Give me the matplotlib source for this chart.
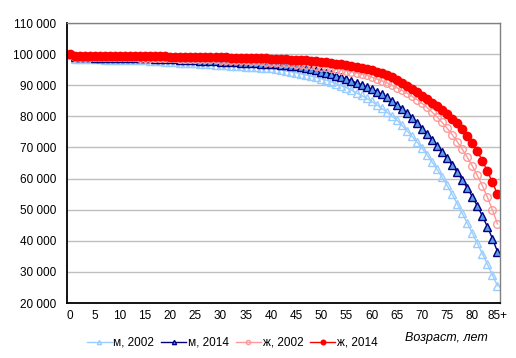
import matplotlib
matplotlib.use("Agg")
import matplotlib.pyplot as plt
import numpy as np

plt.rcParams['font.family'] = ['Liberation Sans', 'DejaVu Sans']

# возраст 0..85+
ages = list(range(86))
xtick_labels = [str(a) for a in range(0, 85, 5)] + ["85+"]

# мужчины, 2002
m2002 = [100000, 98500, 98430, 98390, 98350, 98320, 98290, 98260, 98230, 98200,
         98170, 98140, 98110, 98070, 98020, 97960, 97880, 97790, 97700, 97600,
         97500, 97400, 97300, 97200, 97100, 97000, 96900, 96800, 96700, 96600,
         96500, 96400, 96300, 96200, 96100, 96000, 95880, 95760, 95640, 95520,
         95400, 95150, 94900, 94620, 94320, 94000, 93650, 93280, 92900, 92500,
         92100, 91600, 91050, 90450, 89850, 89200, 88400, 87550, 86700, 85800,
         84800, 83700, 82550, 81350, 80100, 78800, 77150, 75400, 73600, 71750,
         69800, 67600, 65350, 62950, 60400, 57800, 54900, 51900, 48800, 45650,
         42500, 39150, 35800, 32400, 28950, 25500]

# мужчины, 2014
m2014 = [100000, 99050, 98990, 98950, 98920, 98890, 98870, 98850, 98830, 98810,
         98790, 98770, 98750, 98720, 98690, 98650, 98600, 98550, 98490, 98430,
         98370, 98300, 98230, 98160, 98090, 98010, 97930, 97850, 97770, 97690,
         97600, 97510, 97420, 97330, 97240, 97150, 97080, 97010, 96940, 96870,
         96800, 96680, 96550, 96410, 96260, 96100, 95800, 95470, 95130, 94770,
         94400, 94000, 93550, 93060, 92540, 92000, 91400, 90750, 90100, 89400,
         88700, 87900, 87050, 86100, 85000, 83800, 82450, 81000, 79450, 77800,
         76050, 74200, 72400, 70500, 68550, 66500, 64300, 62000, 59550, 56950,
         54150, 51150, 47950, 44500, 40700, 36500]

# женщины, 2002
f2002 = [100000, 99200, 99150, 99120, 99100, 99080, 99060, 99040, 99020, 99000,
         98980, 98960, 98940, 98920, 98890, 98860, 98820, 98780, 98740, 98700,
         98660, 98620, 98580, 98540, 98500, 98460, 98420, 98380, 98340, 98290,
         98240, 98190, 98140, 98080, 98020, 97950, 97880, 97800, 97710, 97620,
         97520, 97410, 97290, 97160, 97020, 96870, 96710, 96540, 96360, 96170,
         95970, 95750, 95510, 95250, 94970, 94670, 94340, 93990, 93610, 93190,
         92600, 92050, 91450, 90800, 90050, 89200, 88400, 87500, 86500, 85400,
         84200, 82850, 81400, 79800, 78050, 76200, 74100, 71850, 69450, 66850,
         64050, 61000, 57700, 54000, 49900, 45400]

# женщины, 2014
f2014 = [100000, 99550, 99510, 99490, 99470, 99450, 99440, 99430, 99420, 99410,
         99400, 99390, 99380, 99370, 99350, 99330, 99310, 99290, 99270, 99250,
         99230, 99210, 99190, 99170, 99150, 99120, 99090, 99060, 99030, 99000,
         98970, 98940, 98910, 98870, 98830, 98790, 98750, 98700, 98650, 98600,
         98540, 98480, 98410, 98340, 98260, 98170, 98070, 97960, 97840, 97710,
         97550, 97380, 97190, 96980, 96750, 96500, 96220, 95910, 95570, 95200,
         94800, 94370, 93900, 93300, 92600, 91800, 90850, 89850, 88800, 87750,
         86650, 85550, 84400, 83200, 81950, 80650, 79250, 77700, 75900, 73800,
         71450, 68750, 65700, 62350, 58750, 55000]

fig = plt.figure(figsize=(5.16, 3.58), dpi=100)
ax = fig.add_axes([67/516, 55/358, 433/516, 280/358])

ax.plot(ages, m2002, color='#99CCFF', lw=1, marker='^', ms=5.5,
        mfc='none', mec='#99CCFF', mew=1, label='м, 2002')
ax.plot(ages, m2014, color='#000080', lw=1, marker='^', ms=5.5,
        mfc='#5C9CE6', mec='#000080', mew=1, label='м, 2014')
ax.plot(ages, f2002, color='#FF9999', lw=1, marker='o', ms=5.5,
        mfc='none', mec='#FF9999', mew=1, label='ж, 2002')
ax.plot(ages, f2014, color='#FF0000', lw=1, marker='o', ms=6,
        mfc='#FF0000', mec='#FF0000', mew=1, label='ж, 2014')

ax.set_xlim(-0.5, 85.5)
ax.set_ylim(20000, 110000)
ax.set_yticks(np.arange(20000, 110001, 10000))
ax.set_yticklabels([f"{v:,}".replace(",", " ") for v in range(20000, 110001, 10000)])
ax.set_xticks(list(range(0, 86, 5)))
ax.set_xticklabels(xtick_labels)
ax.tick_params(axis='both', length=0, labelsize=8.5)
ax.tick_params(axis='y', pad=8)
ax.tick_params(axis='x', pad=5)

ax.yaxis.grid(True, color='#BFBFBF', lw=1)
ax.set_axisbelow(True)
for s in ['top', 'right']:
    ax.spines[s].set_color('#808080')
    ax.spines[s].set_linewidth(1)
for s in ['left', 'bottom']:
    ax.spines[s].set_color('black')
    ax.spines[s].set_linewidth(1.3)

fig.legend(loc='center', bbox_to_anchor=(0.45, 0.042), ncol=4, frameon=False,
           fontsize=8.5, handlelength=2.1, handletextpad=0.15, columnspacing=0.6,
           markerscale=0.55)
fig.text(0.866, 0.056, 'Возраст, лет', fontsize=9, style='italic',
         ha='center', va='center')

fig.savefig('out.png', dpi=100)
